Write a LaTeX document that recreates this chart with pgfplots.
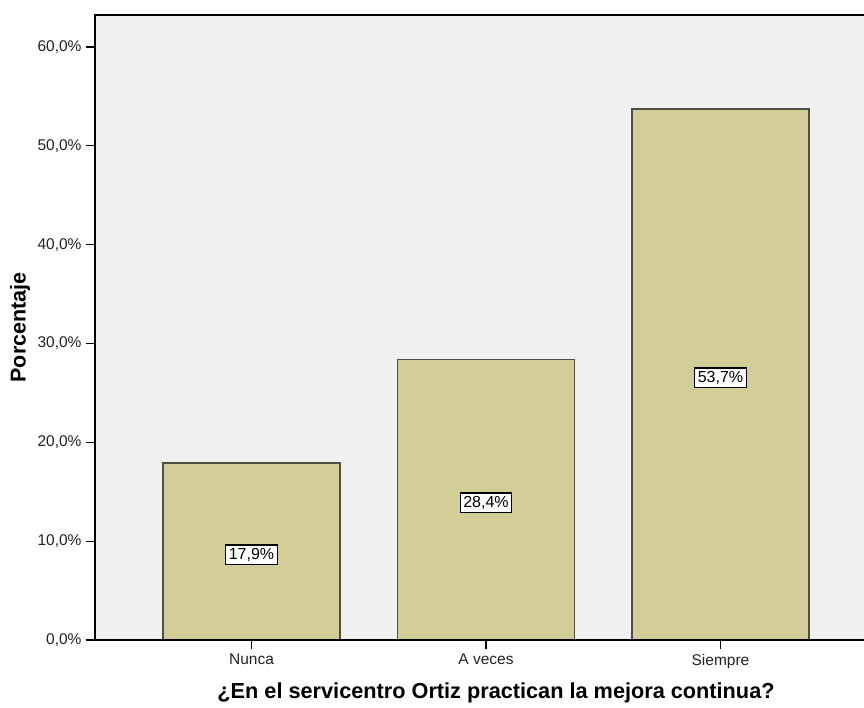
\documentclass[border=0pt]{standalone}
\usepackage{fontspec}
\setmainfont{Liberation Sans}
\usepackage{pgfplots}
\pgfplotsset{compat=1.18}
\definecolor{plotbg}{HTML}{F0F0F0}
\definecolor{barfill}{HTML}{D3CE98}
\definecolor{baredge}{HTML}{4F4E40}
\definecolor{ticktext}{HTML}{222222}

\begin{document}
\begin{tikzpicture}
\begin{axis}[
  at={(0pt,0pt)}, anchor=south west,
  scale only axis, width=769pt, height=625pt,
  xmin=-0.6674, xmax=2.612, ymin=0, ymax=63.24,
  clip=false,
  axis background/.style={fill=plotbg},
  axis line style={draw=none},
  tick pos=left, tick align=outside,
  major tick length=9pt,
  tick style={black, line width=1.2pt},
  xtick={0,1,2}, xticklabels={Nunca, A veces, Siempre},
  ytick={0,10,...,60},
  /pgf/number format/assume math mode=true,
  yticklabel={\pgfmathprintnumber[fixed,fixed zerofill,precision=1,use comma]{\tick}\%},
  ticklabel style={font=\fontsize{15.5}{18}\selectfont, text=ticktext},
  yticklabel style={xshift=-1pt},
  xticklabel style={yshift=-1.5pt},
  xlabel={¿En el servicentro Ortiz practican la mejora continua?},
  xlabel style={at={(axis description cs:0.5215,0)}, anchor=center, yshift=-53pt,
    font=\fontsize{21.7}{24}\selectfont\bfseries},
  ylabel={Porcentaje},
  ylabel style={at={(axis description cs:0,0.5)}, anchor=center, yshift=75pt,
    font=\fontsize{21.5}{24}\selectfont\bfseries},
]
\addplot[ybar, bar width=0.755, fill=barfill, draw=baredge, line width=1.6pt,
  nodes near coords={\pgfmathprintnumber[fixed,fixed zerofill,precision=1,use comma]{\pgfplotspointmeta}\%},
  visualization depends on=y \as \rawy,
  every node near coord/.append style={anchor=center,
    shift={(axis direction cs:0,{-0.5*\rawy})}, yshift=-3pt,
    fill=white, draw=black, line width=1.2pt, inner sep=3pt,
    text=black, font=\fontsize{16}{18}\selectfont}]
  coordinates {(0,17.9) (1,28.4) (2,53.7)};
% frame: top, left and bottom only
\draw[black, line width=1.4pt] (rel axis cs:1,1) -- (rel axis cs:0,1) -- (rel axis cs:0,0) -- (rel axis cs:1,0);
\end{axis}
% page extent: 95pt left of the plot area, 68pt below it
\pgfresetboundingbox
\path[use as bounding box] (-95pt,-68pt) rectangle (769pt,640pt);
\end{tikzpicture}
\end{document}
